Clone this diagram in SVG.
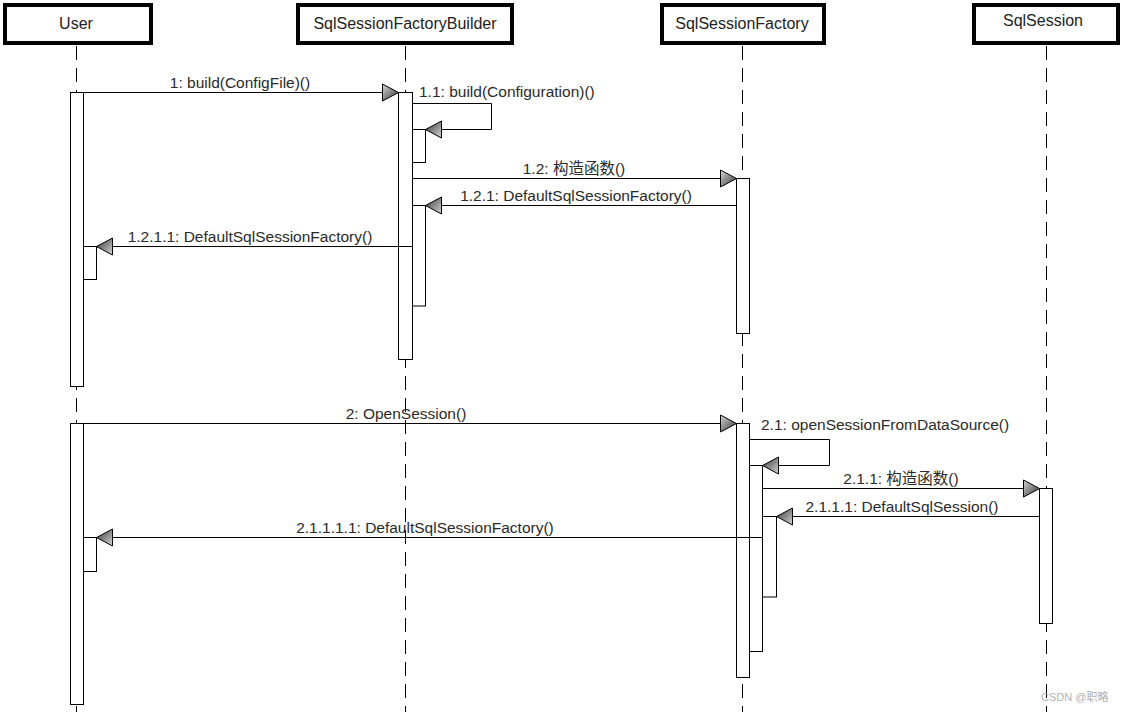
<svg xmlns="http://www.w3.org/2000/svg" width="1124" height="712" viewBox="0 0 1124 712">
<style>
.hd{fill:#fff;stroke:#000;stroke-width:4}
.ht{font-family:"Liberation Sans",Arial,"Noto Sans CJK SC",sans-serif;font-size:16px;fill:#222;text-anchor:middle}
.ll{stroke:#000;stroke-width:1;stroke-dasharray:14 8;fill:none}
.bar{fill:#fff;stroke:#000;stroke-width:1}
.msg{stroke:#000;stroke-width:1;fill:none;marker-end:url(#ah)}
.lb{font-family:"Liberation Sans",Arial,"Noto Sans CJK SC",sans-serif;font-size:15.5px;fill:#2a2a2a}
.c{text-anchor:middle}
.wm{font-family:"Liberation Sans",Arial,"Noto Sans CJK SC",sans-serif;font-size:11px;fill:#b0b0b0}
</style>
<defs>
<linearGradient id="g" x1="0" y1="0" x2="1" y2="1">
<stop offset="0" stop-color="#d6d6d6"/>
<stop offset="1" stop-color="#333"/>
</linearGradient>
<marker id="ah" markerUnits="userSpaceOnUse" markerWidth="18" markerHeight="19" refX="16" refY="8.5" orient="auto" overflow="visible">
<path d="M0,0 L16,8.5 L0,17 Z" fill="url(#g)" stroke="#000" stroke-width="1"/>
</marker>
</defs>
<rect width="1124" height="712" fill="#fff"/>

<g id="User">
<rect class="hd" x="5" y="5" width="146" height="38"/>
<text class="ht" x="76" y="29">User</text>
<line class="ll" x1="76.5" y1="46" x2="76.5" y2="712"/>
<rect class="bar" x="70.5" y="92.5" width="13" height="294"/>
<rect class="bar" x="83.5" y="246.5" width="13" height="33"/>
<rect class="bar" x="70.5" y="423.5" width="13" height="281"/>
<rect class="bar" x="83.5" y="537.5" width="13" height="34"/>
</g>

<g id="SqlSessionFactoryBuilder">
<rect class="hd" x="298" y="5" width="214" height="38"/>
<text class="ht" x="405" y="29">SqlSessionFactoryBuilder</text>
<line class="ll" x1="405.5" y1="46" x2="405.5" y2="712"/>
<rect class="bar" x="398.5" y="92.5" width="14" height="267"/>
<rect class="bar" x="412.5" y="129.5" width="13" height="33"/>
<rect class="bar" x="412.5" y="205.5" width="13" height="100.5"/>
</g>

<g id="SqlSessionFactory">
<rect class="hd" x="662" y="5" width="162" height="38"/>
<text class="ht" x="742" y="29">SqlSessionFactory</text>
<line class="ll" x1="742.5" y1="46" x2="742.5" y2="712"/>
<rect class="bar" x="736.5" y="178.5" width="13" height="155"/>
<rect class="bar" x="736.5" y="423.5" width="13" height="254"/>
<rect class="bar" x="749.5" y="465.5" width="13" height="186"/>
<rect class="bar" x="762.5" y="516.5" width="14" height="80.5"/>
</g>

<g id="SqlSession">
<rect class="hd" x="974" y="5" width="144" height="38"/>
<text class="ht" x="1043" y="26">SqlSession</text>
<line class="ll" x1="1046.5" y1="46" x2="1046.5" y2="712"/>
<rect class="bar" x="1039.5" y="488.5" width="13" height="135"/>
</g>

<g id="connectors">
<line class="msg" x1="83.5" y1="92.5" x2="398.5" y2="92.5"/>
<polyline class="msg" points="412.5,103.5 491.5,103.5 491.5,129.5 425.5,129.5"/>
<line class="msg" x1="412.5" y1="178.5" x2="736.5" y2="178.5"/>
<line class="msg" x1="736.5" y1="205.5" x2="425.5" y2="205.5"/>
<line class="msg" x1="412.5" y1="246.5" x2="96.5" y2="246.5"/>
<line class="msg" x1="83.5" y1="423.5" x2="736.5" y2="423.5"/>
<polyline class="msg" points="749.5,439.5 829.5,439.5 829.5,465.5 762.5,465.5"/>
<line class="msg" x1="762.5" y1="488.5" x2="1039.5" y2="488.5"/>
<line class="msg" x1="1039.5" y1="516.5" x2="776.5" y2="516.5"/>
<line class="msg" x1="762.5" y1="537.5" x2="96.5" y2="537.5"/>
</g>

<g id="labels">
<text class="lb c" x="240" y="88">1: build(ConfigFile)()</text>
<text class="lb" x="419" y="97">1.1: build(Configuration)()</text>
<text class="lb c" x="574" y="174">1.2: 构造函数()</text>
<text class="lb c" x="576" y="201">1.2.1: DefaultSqlSessionFactory()</text>
<text class="lb c" x="250" y="242">1.2.1.1: DefaultSqlSessionFactory()</text>
<text class="lb c" x="406" y="419">2: OpenSession()</text>
<text class="lb" x="761" y="430">2.1: openSessionFromDataSource()</text>
<text class="lb c" x="901" y="484">2.1.1: 构造函数()</text>
<text class="lb c" x="902" y="512">2.1.1.1: DefaultSqlSession()</text>
<text class="lb c" x="425" y="533">2.1.1.1.1: DefaultSqlSessionFactory()</text>
</g>
<text class="wm" x="1041" y="701">CSDN @职略</text>
</svg>
